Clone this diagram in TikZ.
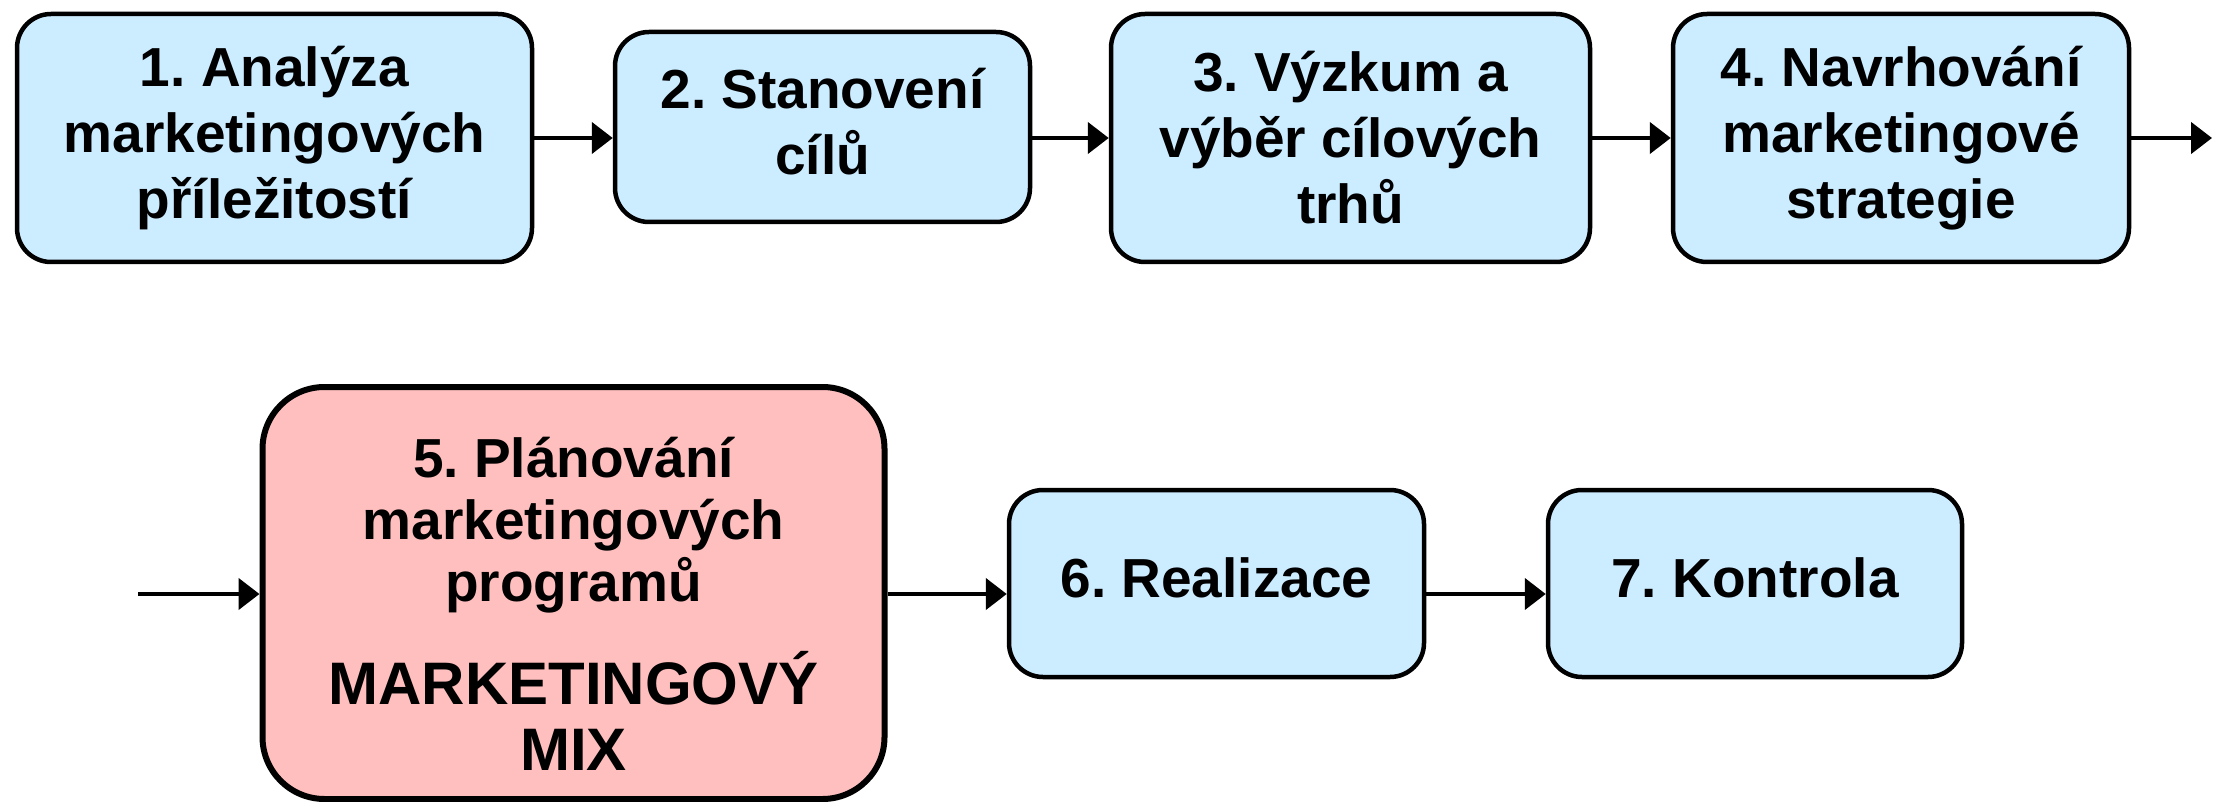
\documentclass[tikz,border=0pt]{standalone}
\usepackage{fontspec}
\setmainfont{Liberation Sans}
\usetikzlibrary{arrows.meta}
\definecolor{stepblue}{RGB}{204,236,255}
\definecolor{steppink}{RGB}{255,191,191}
\tikzset{
  stepbox/.style={draw=black, line width=4.5pt, fill=stepblue, rounded corners=34pt,
    inner sep=0pt, align=center, font=\frenchspacing\fontsize{55}{66}\selectfont\bfseries},
  mixbox/.style={draw=black, line width=6pt, fill=steppink, rounded corners=62pt,
    inner sep=0pt},
  steptext/.style={inner sep=0pt, align=center},
  flow/.style={line width=4.5pt, -{Triangle[length=21pt,width=31pt]}}
}
\begin{document}
\begin{tikzpicture}[x=1pt, y=-1pt]
\useasboundingbox (0,0) rectangle (2213,802);

% upper row
\node[stepbox, minimum width=515pt, minimum height=248pt] (s1) at (274.5,138)
  {1. Analýza\\marketingových\\příležitostí};
\node[stepbox, minimum width=415pt, minimum height=190pt] (s2) at (822.5,127)
  {2. Stanovení\\cílů\vphantom{p}};
\node[stepbox, minimum width=479pt, minimum height=248pt] (s3) at (1350.5,138)
  {3. Výzkum a\\výběr cílových\\trhů};
\node[stepbox, minimum width=456pt, minimum height=248pt] (s4) at (1901,138)
  {4. Navrhování\\marketingové\\strategie};
\coordinate (out4) at (2212,138);

% lower row
\coordinate (in5) at (138,594);
\node[mixbox, minimum width=622pt, minimum height=412pt] (s5) at (573.5,593) {};
\node[steptext, font=\frenchspacing\fontsize{55}{62}\selectfont\bfseries] (s5a) at (573.5,525)
  {5. Plánování\\marketingových\\programů};
\node[steptext, font=\frenchspacing\fontsize{60}{66}\selectfont\bfseries] (s5b) at (573.5,711)
  {MARKETINGOVÝ\\MIX};
\node[stepbox, minimum width=415pt, minimum height=187pt] (s6) at (1216.5,583.5)
  {6. Realizace\vphantom{p}};
\node[stepbox, minimum width=414pt, minimum height=187pt] (s7) at (1755,583.5)
  {7. Kontrola\vphantom{p}};

% connectors
\draw[flow] (s1.east) -- (s1.east -| s2.west);
\draw[flow] (s2.east |- s1.east) -- (s3.west);
\draw[flow] (s3.east) -- (s4.west);
\draw[flow] (s4.east) -- (out4);
\draw[flow] (in5) -- (in5 -| s5.west);
\draw[flow] (in5 -| s5.east) -- (in5 -| s6.west);
\draw[flow] (in5 -| s6.east) -- (in5 -| s7.west);
\end{tikzpicture}
\end{document}
